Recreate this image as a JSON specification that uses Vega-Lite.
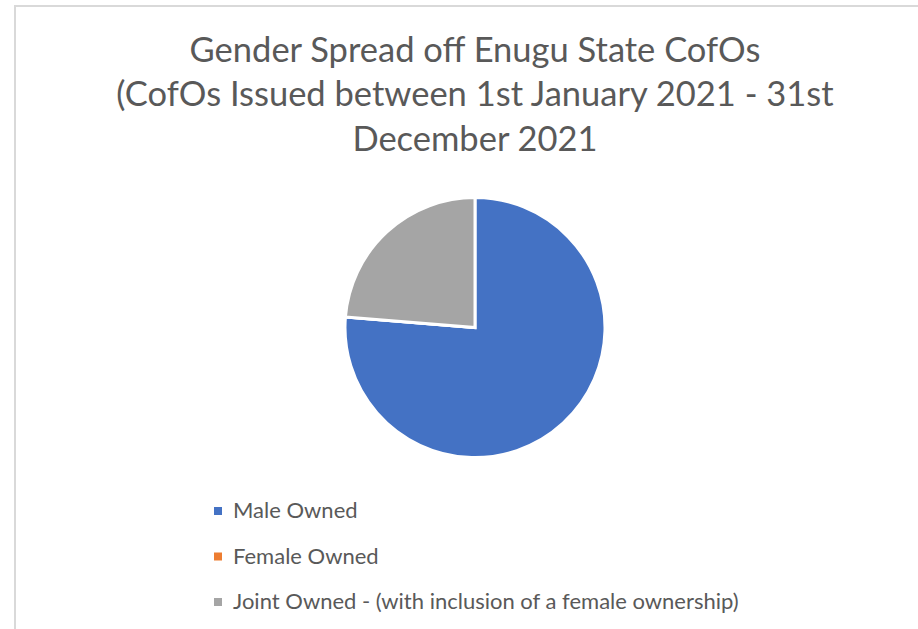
{
  "$schema": "https://vega.github.io/schema/vega-lite/v6.json",
  "autosize": "none",
  "width": 920,
  "height": 643,
  "padding": {"left": 15, "top": 6, "right": 0, "bottom": 0},
  "background": "white",
  "view": {"stroke": "#d9d9d9", "strokeWidth": 2, "fill": "white"},
  "config": {
    "font": "Lato"
  },
  "title": {
    "text": ["Gender Spread off Enugu State CofOs", "(CofOs Issued between 1st January 2021 - 31st", "December 2021"],
    "anchor": "middle",
    "frame": "group",
    "font": "Lato",
    "fontSize": 34.5,
    "fontWeight": "normal",
    "color": "#595959",
    "lineHeight": 44.5,
    "baseline": "top",
    "offset": 0,
    "dy": 152
  },
  "data": {
    "values": [
      {"category": "Male Owned", "value": 76.3, "order": 1},
      {"category": "Female Owned", "value": 0, "order": 2},
      {"category": "Joint Owned - (with inclusion of a female ownership)", "value": 23.7, "order": 3}
    ]
  },
  "mark": {"type": "arc", "outerRadius": 130, "stroke": "white", "strokeWidth": 3},
  "encoding": {
    "theta": {"field": "value", "type": "quantitative", "stack": true},
    "order": {"field": "order", "type": "quantitative"},
    "color": {
      "field": "category",
      "type": "nominal",
      "sort": ["Male Owned", "Female Owned", "Joint Owned - (with inclusion of a female ownership)"],
      "scale": {
        "domain": ["Male Owned", "Female Owned", "Joint Owned - (with inclusion of a female ownership)"],
        "range": ["#4472C4", "#ED7D31", "#A5A5A5"]
      },
      "legend": {
        "title": null,
        "orient": "none",
        "legendX": 192,
        "legendY": 494,
        "padding": 0,
        "symbolType": "square",
        "symbolSize": 64,
        "symbolStrokeWidth": 0,
        "labelFont": "Lato",
        "labelFontSize": 22,
        "labelColor": "#595959",
        "labelOffset": 4,
        "labelLimit": 700,
        "rowPadding": 23.5
      }
    }
  }
}
